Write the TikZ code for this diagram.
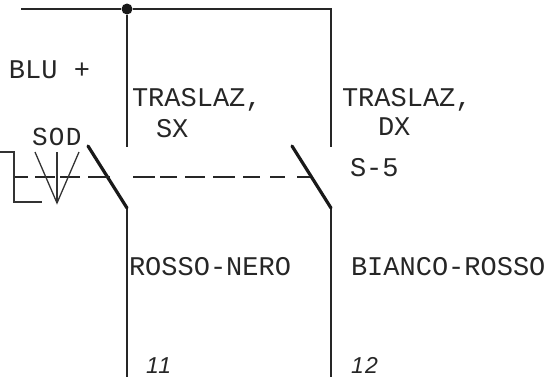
\documentclass[tikz,border=0pt]{standalone}
\usepackage{fontspec}
\setmonofont{Liberation Mono}
\setsansfont{Liberation Sans}
\tikzset{
  wire/.style={line width=1.8pt,color=black!85},
  thinwire/.style={line width=1.3pt,color=black!80},
  blade/.style={line width=3.2pt,color=black!90},
  label/.style={anchor=base west,inner sep=0pt,outer sep=0pt,text=black!85,font=\ttfamily\fontsize{27}{27}\selectfont},
  num/.style={anchor=base west,inner sep=0pt,outer sep=0pt,text=black!85,font=\sffamily\itshape\fontsize{23}{23}\selectfont\addfontfeature{LetterSpace=6}},
  junction/.style={circle,fill=black!90,inner sep=0pt,minimum size=11pt}
}
\begin{document}
\begin{tikzpicture}[x=1pt,y=-1pt]
\useasboundingbox (0,0) rectangle (551,378);
% junction and terminals
\node[junction] (j) at (127,9) {};
\coordinate (busL) at (21,9);
\coordinate (busR) at (331,9);
\coordinate (la) at (127,147);
\coordinate (lb) at (88,146);
\coordinate (lc) at (127,208);
\coordinate (ld) at (127,377);
\coordinate (ra) at (331,147);
\coordinate (rb) at (292,146);
\coordinate (rc) at (331,208);
\coordinate (rd) at (331,377);
\coordinate (k0) at (0,152);
\coordinate (k1) at (14,152);
\coordinate (k2) at (14,202);
\coordinate (k3) at (42,202);
\coordinate (ds) at (14,177);
\coordinate (de) at (311,177);
\coordinate (vs) at (35,152);
\coordinate (vo) at (57,152);
\coordinate (vd) at (79,152);
\coordinate (vb) at (57,203);
% wires
\draw[wire] (busL) -- (j) -- (busR) -- (ra);
\draw[wire] (j) -- (la);
\draw[wire] (lc) -- (ld);
\draw[wire] (rc) -- (rd);
\draw[blade,line cap=round] (lb) -- (lc);
\draw[blade,line cap=round] (rb) -- (rc);
\draw[wire,dash pattern=on 14pt off 7pt on 20pt off 5pt on 20pt off 8pt on 22pt off 23pt on 22pt off 5pt on 17pt off 8pt on 20pt off 8pt on 22pt off 8pt on 17pt off 10pt on 15pt off 12pt on 13pt off 100pt] (ds) -- (de);
\draw[thinwire] (k0) -- (k1) -- (k2) -- (k3);
\draw[thinwire] (vs) -- (vb) -- (vd);
\draw[thinwire] (vo) -- (vb);
% labels
\node[label] (blu) at (9,78) {BLU +};
\node[label] (tsx) at (132,106) {TRASLAZ,};
\node[label] (sx) at (156,137) {SX};
\node[label] (tdx) at (342,106) {TRASLAZ,};
\node[label] (dx) at (378,135) {DX};
\node[label] (s5) at (350,176) {S-5};
\node[label,font=\ttfamily\fontsize{26}{26}\selectfont\addfontfeature{LetterSpace=5}] (sod) at (32,145) {SOD};
\node[label] (rn) at (129,275) {ROSSO-NERO};
\node[label] (br) at (351,275) {BIANCO-ROSSO};
\node[num] (n11) at (146,373) {11};
\node[num] (n12) at (351,373) {12};
\end{tikzpicture}
\end{document}
